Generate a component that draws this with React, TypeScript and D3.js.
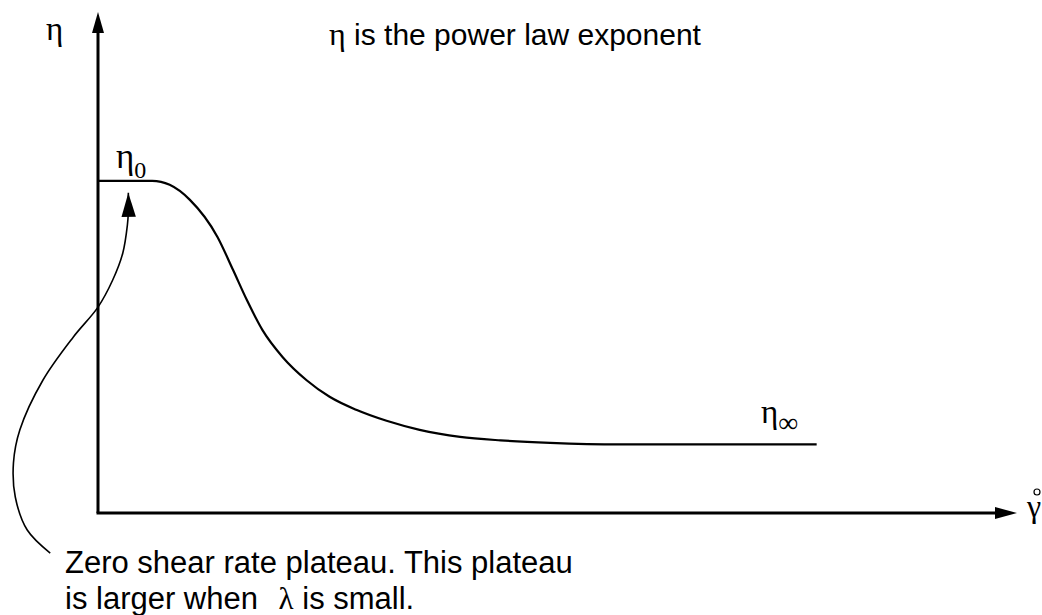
import * as d3 from 'd3'

// shear rate (arbitrary units) and viscosity (arbitrary units) of the flow curve
const shearRate = [0, 5.9, 7.8, 10.0, 13.0, 14.7, 16.2, 17.9, 20.1, 22.7, 25.2, 28.1, 31.4, 35.0, 39.4, 43.8, 49.2, 56.8, 78.2]
const viscosity = [66.3, 66.3, 65.5, 62.5, 55.1, 48.5, 42.5, 36.5, 31.1, 26.5, 23.2, 20.6, 18.4, 16.6, 15.2, 14.5, 14.0, 13.7, 13.7]

// callout arrow pointing at the zero shear plateau
const calloutX = [-5.2, -7.7, -9.0, -9.2, -8.5, -6.0, -2.7, 0, 1.6, 2.7, 3.2, 3.3, 3.3]
const calloutY = [-8.0, -3.4, 3.2, 10.0, 16.6, 26.5, 35.1, 41.1, 46.5, 51.9, 57.5, 60.1, 63.9]

const axisMax = 100

const SERIF = '"Liberation Serif", "DejaVu Serif", serif'
const SANS = '"Liberation Sans", Arial, sans-serif'

export default function App() {
	const width = 1042
	const height = 615

	const x = d3.scaleLinear().domain([0, axisMax]).range([98, 1017])
	const y = d3.scaleLinear().domain([0, axisMax]).range([513, 12])

	const flow = shearRate.map((d, i) => [d, viscosity[i]] as [number, number])
	const callout = calloutX.map((d, i) => [d, calloutY[i]] as [number, number])

	const flowLine = d3
		.line<[number, number]>()
		.x((d) => x(d[0]))
		.y((d) => y(d[1]))
		.curve(d3.curveMonotoneX)

	const calloutLine = d3
		.line<[number, number]>()
		.x((d) => x(d[0]))
		.y((d) => y(d[1]))
		.curve(d3.curveCatmullRom.alpha(0.5))

	const x0 = x(0)
	const y0 = y(0)
	const xEnd = x(axisMax)
	const yEnd = y(axisMax)

	const plateauY = y(viscosity[0])
	const infY = y(viscosity[viscosity.length - 1])

	return (
		<svg
			width={width}
			height={height}
			style={{ position: 'absolute', left: 0, top: 0, background: '#fff' }}
		>
			<defs>
				<marker
					id="head"
					markerUnits="userSpaceOnUse"
					markerWidth={24}
					markerHeight={16}
					refX={20}
					refY={6}
					orient="auto"
					viewBox="0 0 20 12"
				>
					<path d="M0,0 L20,6 L0,12 Z" fill="#000" />
				</marker>
			</defs>

			{/* axes */}
			<line x1={x0} y1={y0} x2={x0} y2={yEnd + 18} stroke="#000" strokeWidth={3} />
			<path d={`M${x0},${yEnd} L${x0 - 6},${yEnd + 21} L${x0 + 6},${yEnd + 21} Z`} fill="#000" />
			<line x1={x0 - 1.5} y1={y0} x2={xEnd - 18} y2={y0} stroke="#000" strokeWidth={3} />
			<path d={`M${xEnd},${y0} L${xEnd - 22},${y0 - 6} L${xEnd - 22},${y0 + 6} Z`} fill="#000" />

			{/* flow curve */}
			<path d={flowLine(flow) || ''} fill="none" stroke="#000" strokeWidth={2.2} />

			{/* callout */}
			<path
				d={calloutLine(callout) || ''}
				fill="none"
				stroke="#000"
				strokeWidth={1.6}
				markerEnd="url(#head)"
			/>

			{/* axis labels */}
			<text x={46} y={40} fontFamily={SERIF} fontSize={33}>
				η
			</text>
			<text x={1027} y={517} fontFamily={SERIF} fontSize={32}>
				γ
			</text>
			<circle cx={1037} cy={492} r={3} fill="none" stroke="#000" strokeWidth={1.2} />

			{/* plateau labels */}
			<text x={116} y={plateauY - 13} fontFamily={SERIF} fontSize={35}>
				η<tspan fontSize={24} dy={10}>0</tspan>
			</text>
			<text x={761} y={infY - 21} fontFamily={SERIF} fontSize={33}>
				η<tspan fontSize={28} dy={9}>∞</tspan>
			</text>

			{/* title */}
			<text x={329} y={45} fontFamily={SANS} fontSize={30}>
				<tspan fontFamily={SERIF} fontSize={32}>η</tspan> is the power law exponent
			</text>

			{/* callout note */}
			<text x={65} y={573} fontFamily={SANS} fontSize={31}>
				Zero shear rate plateau. This plateau
			</text>
			<text x={65} y={609} fontFamily={SANS} fontSize={31}>
				is larger when <tspan fontFamily={SERIF} dx={12}>λ</tspan> is small.
			</text>
		</svg>
	)
}
